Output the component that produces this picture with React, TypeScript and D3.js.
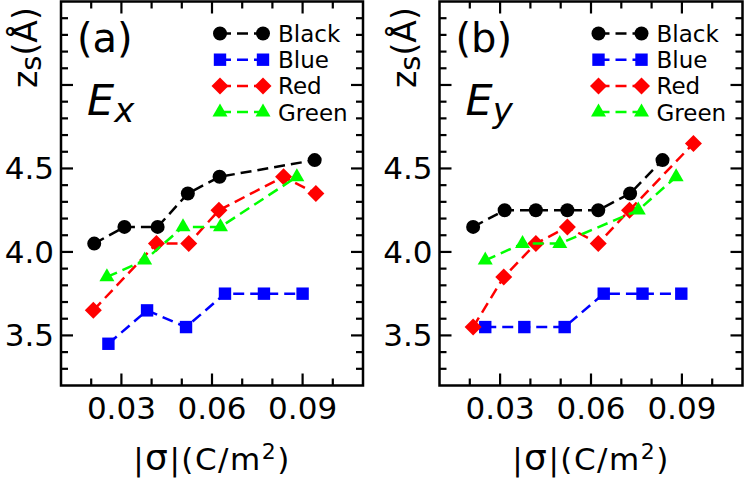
import * as d3 from 'd3';
import React, {useRef, useEffect} from 'react';

const W = 747;
const H = 479;

// legend / series styling
const seriesNames = ["Black", "Blue", "Red", "Green"];
const seriesColours = ["#000000", "#0000ff", "#ff0000", "#00ff00"];
const seriesSymbols = ["circle", "square", "diamond", "triangle"];

// panel (a), field along x
const exBlackX = [0.021, 0.031, 0.042, 0.052, 0.0625, 0.094];
const exBlackY = [4.05, 4.15, 4.15, 4.35, 4.45, 4.55];
const exBlueX = [0.0257, 0.0385, 0.0514, 0.0643, 0.0772, 0.090];
const exBlueY = [3.45, 3.65, 3.55, 3.75, 3.75, 3.75];
const exRedX = [0.0207, 0.0416, 0.0523, 0.0623, 0.0837, 0.0944];
const exRedY = [3.65, 4.05, 4.05, 4.25, 4.45, 4.35];
const exGreenX = [0.0252, 0.0377, 0.0504, 0.0628, 0.0881];
const exGreenY = [3.85, 3.95, 4.15, 4.15, 4.45];

// panel (b), field along y
const eyBlackX = [0.0211, 0.0315, 0.0418, 0.0522, 0.0624, 0.0729, 0.0836];
const eyBlackY = [4.15, 4.25, 4.25, 4.25, 4.25, 4.35, 4.55];
const eyBlueX = [0.0251, 0.038, 0.0513, 0.0642, 0.077, 0.0898];
const eyBlueY = [3.55, 3.55, 3.55, 3.75, 3.75, 3.75];
const eyRedX = [0.0211, 0.0312, 0.0418, 0.0522, 0.0624, 0.0727, 0.0938];
const eyRedY = [3.55, 3.85, 4.05, 4.15, 4.05, 4.25, 4.65];
const eyGreenX = [0.0251, 0.0374, 0.0497, 0.0756, 0.0881];
const eyGreenY = [3.95, 4.05, 4.05, 4.25, 4.45];

// axes
const xDomain = [0.01, 0.11];
const yDomain = [3.2, 5.5];
const xMajor = [0.03, 0.06, 0.09];
const xMinor = [0.02, 0.04, 0.05, 0.07, 0.08, 0.10];
const xTickLabels = ["0.03", "0.06", "0.09"];
const yMajor = [3.5, 4.0, 4.5, 5.0];
const yMinor = [3.3, 3.4, 3.6, 3.7, 3.8, 3.9, 4.1, 4.2, 4.3, 4.4, 4.6, 4.7, 4.8, 4.9, 5.1, 5.2, 5.3, 5.4];
const yTickLabels = ["3.5", "4.0", "4.5", ""];

const panels = [
  {tag: "(a)", sub: "x", left: 61, right: 363,
    xs: [exBlackX, exBlueX, exRedX, exGreenX], ys: [exBlackY, exBlueY, exRedY, exGreenY]},
  {tag: "(b)", sub: "y", left: 439.5, right: 742.5,
    xs: [eyBlackX, eyBlueX, eyRedX, eyGreenX], ys: [eyBlackY, eyBlueY, eyRedY, eyGreenY]},
];

const FONT = "DejaVu Sans";
const DASH = "11,6";

const symbolPath = (kind: string, cx: number, cy: number) => {
  if (kind === "circle") {
    const r = 7;
    return `M${cx - r},${cy}a${r},${r} 0 1,0 ${2 * r},0a${r},${r} 0 1,0 ${-2 * r},0Z`;
  }
  if (kind === "square") {
    const h = 6.2;
    return `M${cx - h},${cy - h}h${2 * h}v${2 * h}h${-2 * h}Z`;
  }
  if (kind === "diamond") {
    const h = 8.5;
    return `M${cx},${cy - h}L${cx + h},${cy}L${cx},${cy + h}L${cx - h},${cy}Z`;
  }
  const s = 15;
  const ht = s * Math.sqrt(3) / 2;
  return `M${cx},${cy - ht * 2 / 3}L${cx + s / 2},${cy + ht / 3}L${cx - s / 2},${cy + ht / 3}Z`;
};

export default function App() {
  const ref = useRef<SVGSVGElement>(null);

  useEffect(() => {
    const svg = d3.select(ref.current);
    svg.selectAll("*").remove();

    const top = 1.5, bottom = 385.5;

    panels.forEach((p) => {
      const g = svg.append("g");
      const x = d3.scaleLinear().domain(xDomain).range([p.left, p.right]);
      const y = d3.scaleLinear().domain(yDomain).range([bottom, top]);

      // ticks on all four sides
      const tick = (x1: number, y1: number, x2: number, y2: number) =>
        g.append("line").attr("x1", x1).attr("y1", y1).attr("x2", x2).attr("y2", y2)
          .attr("stroke", "#000").attr("stroke-width", 2.2);
      xMajor.forEach(v => { tick(x(v), bottom, x(v), bottom - 12); tick(x(v), top, x(v), top + 12); });
      xMinor.forEach(v => { tick(x(v), bottom, x(v), bottom - 7); tick(x(v), top, x(v), top + 7); });
      yMajor.forEach(v => { tick(p.left, y(v), p.left + 12, y(v)); tick(p.right, y(v), p.right - 12, y(v)); });
      yMinor.forEach(v => { tick(p.left, y(v), p.left + 7, y(v)); tick(p.right, y(v), p.right - 7, y(v)); });

      g.append("rect")
        .attr("x", p.left).attr("y", top)
        .attr("width", p.right - p.left).attr("height", bottom - top)
        .attr("fill", "none").attr("stroke", "#000").attr("stroke-width", 2.5);

      // tick labels
      xMajor.forEach((v, i) => {
        g.append("text").attr("x", x(v)).attr("y", 419)
          .attr("text-anchor", "middle").attr("font-family", FONT).attr("font-size", 31)
          .text(xTickLabels[i]);
      });
      yMajor.forEach((v, i) => {
        g.append("text").attr("x", p.left - 7).attr("y", y(v) + 11)
          .attr("text-anchor", "end").attr("font-family", FONT).attr("font-size", 31)
          .text(yTickLabels[i]);
      });

      // axis titles
      const xt = g.append("text")
        .attr("x", (p.left + p.right) / 2).attr("y", 470)
        .attr("text-anchor", "middle").attr("font-family", FONT).attr("font-size", 31)
        .attr("letter-spacing", 1.5);
      xt.append("tspan").text("|");
      xt.append("tspan").attr("font-size", 36).text("σ");
      xt.append("tspan").text("|(C/m");
      xt.append("tspan").attr("font-size", 22).attr("dy", -11).text("2");
      xt.append("tspan").attr("dy", 11).text(")");

      const yt = g.append("text")
        .attr("transform", `translate(${p.left - 24},88) rotate(-90)`)
        .attr("font-family", FONT).attr("font-size", 33);
      yt.append("tspan").text("z");
      yt.append("tspan").attr("font-size", 29).attr("dy", 4).text("s");
      yt.append("tspan").attr("dy", -4).text("(Å)");

      // panel tag and field label
      g.append("text").attr("x", p.left + 16).attr("y", 52)
        .attr("font-family", FONT).attr("font-size", 40).text(p.tag);
      const ft = g.append("text").attr("x", p.left + 26).attr("y", 115)
        .attr("font-family", FONT).attr("font-style", "italic").attr("font-size", 43);
      ft.append("tspan").text("E");
      ft.append("tspan").attr("font-size", 34).attr("dy", 7).text(p.sub);

      // series
      const line = d3.line<[number, number]>().x(d => x(d[0])).y(d => y(d[1]));
      seriesNames.forEach((name, si) => {
        const pts: [number, number][] = p.xs[si].map((v, i) => [v, p.ys[si][i]]);
        g.append("path").attr("d", line(pts))
          .attr("fill", "none").attr("stroke", seriesColours[si])
          .attr("stroke-width", 2.5).attr("stroke-dasharray", DASH);
        pts.forEach(d => {
          g.append("path").attr("d", symbolPath(seriesSymbols[si], x(d[0]), y(d[1])))
            .attr("fill", seriesColours[si]);
        });

        // legend entry
        const ly = 33.5 + si * 26.2;
        const lx1 = p.left + 159, lx2 = p.left + 202;
        g.append("line").attr("x1", lx1).attr("x2", lx2).attr("y1", ly).attr("y2", ly)
          .attr("stroke", seriesColours[si]).attr("stroke-width", 2.5)
          .attr("stroke-dasharray", DASH);
        g.append("path").attr("d", symbolPath(seriesSymbols[si], lx1, ly)).attr("fill", seriesColours[si]);
        g.append("path").attr("d", symbolPath(seriesSymbols[si], lx2, ly)).attr("fill", seriesColours[si]);
        g.append("text").attr("x", p.left + 217).attr("y", ly + 8.5)
          .attr("font-family", FONT).attr("font-size", 23).text(name);
      });
    });
  }, []);

  return (
    <svg ref={ref} width={W} height={H}
      style={{position: "absolute", left: 0, top: 0, background: "#fff"}}>
    </svg>
  );
}
